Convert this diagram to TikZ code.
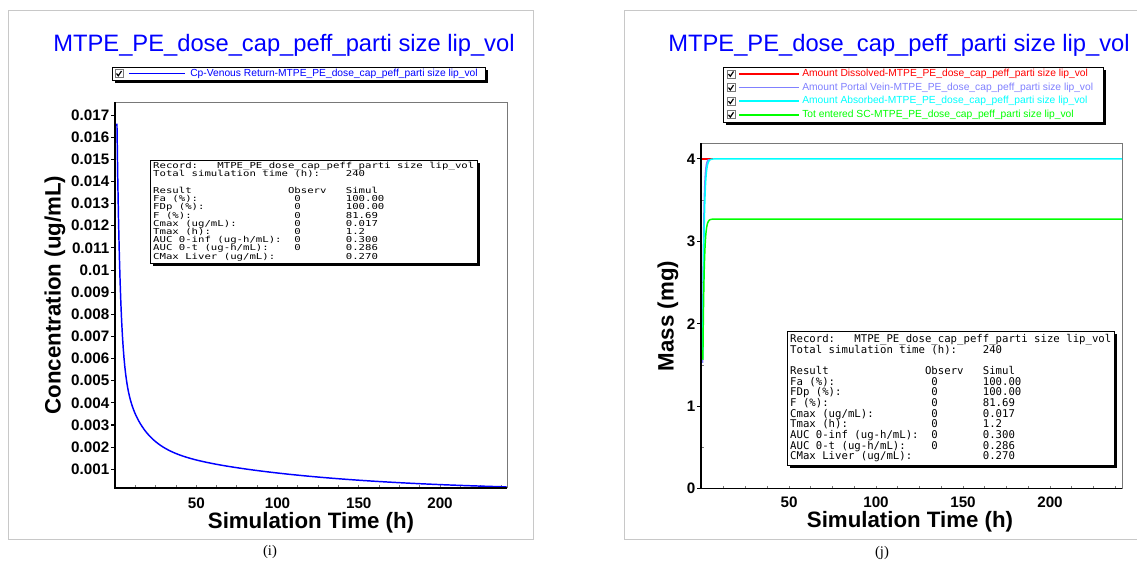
\documentclass[tikz,border=0pt]{standalone}
\usepackage{fontspec}
\setmainfont{Liberation Serif}
\newfontfamily\arialfont{Liberation Sans}
\newfontfamily\consolefont{DejaVu Sans Mono}
\usetikzlibrary{shadows}

\definecolor{framegray}{RGB}{200,200,200}
\definecolor{edgegray}{RGB}{120,120,120}
\definecolor{venousblue}{RGB}{0,0,255}
\definecolor{dissolvedred}{RGB}{255,0,0}
\definecolor{portalblue}{RGB}{128,128,255}
\definecolor{absorbedcyan}{RGB}{0,255,255}
\definecolor{enteredgreen}{RGB}{0,255,0}

% record font, lines set at a fixed pitch
\newcommand{\recfont}{\consolefont\fontsize{8}{8}\selectfont\setlength{\lineskiplimit}{-5pt}\setlength{\lineskip}{0pt}}

% one record line: label, observed, simulated
\newlength{\chw}
\newcommand{\recrow}[3]{\makebox[22\chw][l]{#1}\makebox[8\chw][l]{#2}#3}
\newcommand{\recordtext}{\settowidth{\chw}{0}\global\chw=\chw
\makebox[10\chw][l]{Record:}MTPE\_PE\_dose\_cap\_peff\_parti size lip\_vol\\
\makebox[30\chw][l]{Total simulation time (h):}240\\
\strut\\
\makebox[21\chw][l]{Result}\makebox[9\chw][l]{Observ}Simul\\
\recrow{Fa (\%):}{0}{100.00}\\
\recrow{FDp (\%):}{0}{100.00}\\
\recrow{F (\%):}{0}{81.69}\\
\recrow{Cmax (ug/mL):}{0}{0.017}\\
\recrow{Tmax (h):}{0}{1.2}\\
\recrow{AUC 0-inf (ug-h/mL):}{0}{0.300}\\
\recrow{AUC 0-t (ug-h/mL):}{0}{0.286}\\
\recrow{CMax Liver (ug/mL):}{}{0.270}}

\tikzset{
  panelframe/.style={draw=framegray, line width=0.75pt},
  titletext/.style={font=\arialfont\fontsize{17.8}{20}\selectfont, text=venousblue, inner sep=0pt},
  legtext/.style={font=\arialfont\fontsize{7.7}{9}\selectfont, anchor=west, inner sep=0pt},
  legline/.style={line width=1.2pt},
  ticklab/.style={font=\arialfont\bfseries\fontsize{11.4}{13}\selectfont, inner sep=0pt},
  axislab/.style={font=\arialfont\bfseries\fontsize{16.7}{19}\selectfont, inner sep=0pt},
  recordbox/.style={draw, fill=white, anchor=north west, align=left, inner sep=2.2pt,
    font=\recfont,
    general shadow={fill=black, shadow xshift=2pt, shadow yshift=-2pt}},
  captext/.style={font=\fontsize{11}{13}\selectfont, inner sep=0pt},
  curve/.style={line width=1.1pt},
  axisline/.style={line width=1.1pt},
  plotedge/.style={edgegray, line width=0.6pt},
  minortick/.style={edgegray, line width=0.6pt},
  checkbox/.pic={
    \draw[edgegray, fill=white, line width=0.6pt] (0,0) rectangle (8,8);
    \draw[line width=0.9pt] (1.5,4) -- (3.3,6.3) -- (6.5,1.5);
  }
}

\begin{document}
\begin{tikzpicture}[x=0.75pt, y=-0.75pt]
\useasboundingbox (0,0) rectangle (1137,561);

%%%%%%%%%%%%%%%% panel (i) %%%%%%%%%%%%%%%%
\draw[panelframe] (8,10) rectangle (533,539);
\node[titletext] (titleL) at (284,45) {MTPE\_PE\_dose\_cap\_peff\_parti size lip\_vol};

% legend
\fill (115,70) rectangle (488,83);
\draw[fill=white, line width=0.6pt] (112,67) rectangle (485,80);
\pic at (115,69.5) {checkbox};
\draw[legline, venousblue] (129,73.5) -- (185,73.5);
\node[legtext, text=venousblue] (legL) at (190,73.5) {Cp-Venous Return-MTPE\_PE\_dose\_cap\_peff\_parti size lip\_vol};

% plot box
\draw[plotedge] (115,102) -- (507.4,102) -- (507.4,488);
\foreach \t in {12.5,25,...,237.5}
  \draw[minortick] ({115+1.625*\t},488) -- ({115+1.625*\t},485);

% concentration curve
\draw[curve, venousblue] plot[domain=1.2:241, samples=500, variable=\t]
  ({115+1.625*\t}, {469.3-(19*exp(-0.5*\t)+4.4*exp(-0.087*\t)+2.24*exp(-0.0099*\t)-1)*22.14});

\draw[axisline] (115,102) -- (115,488) -- (507.4,488);

% y ticks
\foreach \v [count=\k] in {0.001,0.002,0.003,0.004,0.005,0.006,0.007,0.008,0.009,0.01,0.011,0.012,0.013,0.014,0.015,0.016,0.017}{
  \draw[line width=0.8pt] (111,{469.3-(\k-1)*22.14}) -- (115,{469.3-(\k-1)*22.14});
  \node[ticklab, anchor=east] (tyL\k) at (109.5,{469.3-(\k-1)*22.14}) {\v};
}
% x ticks
\foreach \v in {50,100,150,200}
  \node[ticklab] (txL\v) at ({115+1.625*\v},503) {\v};

\node[axislab] (xlabL) at (311,523) {Simulation Time (h)};
\node[axislab, rotate=90] (ylabL) at (55,295) {Concentration (ug/mL)};

\node[recordbox, yscale=0.77, transform shape] (recL) at (150,160) {\recordtext};

\node[captext] (capL) at (270,552) {(i)};

%%%%%%%%%%%%%%%% panel (j) %%%%%%%%%%%%%%%%
\draw[panelframe] (1137,10) -- (624,10) -- (624,539) -- (1137,539);
\node[titletext] (titleR) at (899,45) {MTPE\_PE\_dose\_cap\_peff\_parti size lip\_vol};

% legend
\fill (726,70) rectangle (1106,125);
\draw[fill=white, line width=0.6pt] (723,67) rectangle (1103,122);
\foreach \c/\s [count=\k] in {dissolvedred/Amount Dissolved, portalblue/Amount Portal Vein, absorbedcyan/Amount Absorbed, enteredgreen/Tot entered SC}{
  \pic at (727,{70+13.6*(\k-1)}) {checkbox};
  \draw[legline, \c] (739,{74+13.6*(\k-1)}) -- (799,{74+13.6*(\k-1)});
  \node[legtext, text=\c] (legR\k) at (802,{74+13.6*(\k-1)}) {\s-MTPE\_PE\_dose\_cap\_peff\_parti size lip\_vol};
}

% plot box
\draw[plotedge] (701,143) -- (1122,143) -- (1122,488.5);
\foreach \t in {12.5,25,...,237.5}
  \draw[minortick] ({702+1.74*\t},488.5) -- ({702+1.74*\t},485.5);
\foreach \m in {0.5,1.5,2.5,3.5}
  \draw[minortick] (701,{488.5-82.4*\m}) -- (704,{488.5-82.4*\m});

% mass curves
\draw[curve, dissolvedred] (701,158.9) -- (713,158.9);
\draw[curve, portalblue] plot[domain=0.3:4, samples=40, variable=\t]
  ({702+1.74*\t}, {488.5-82.4*4*(1-exp(-1.6*\t))});
\draw[curve, absorbedcyan] plot[domain=0.4:10, samples=60, variable=\t]
  ({702+1.74*\t}, {488.5-82.4*4*(1-exp(-1.26*\t))}) -- (1122,158.9);
\draw[curve, enteredgreen] plot[domain=0.5:10, samples=60, variable=\t]
  ({702+1.74*\t}, {488.5-82.4*3.27*(1-exp(-1.3*\t))}) -- (1122,219.1);

\draw[axisline] (701,143) -- (701,488.5) -- (1122,488.5);

% y ticks
\foreach \m in {0,...,4}{
  \draw[line width=0.8pt] (697,{488.5-82.4*\m}) -- (701,{488.5-82.4*\m});
  \node[ticklab, anchor=east] (tyR\m) at (695.5,{488.5-82.4*\m}) {\m};
}
% x ticks
\foreach \v in {50,100,150,200}
  \node[ticklab] (txR\v) at ({702+1.74*\v},502) {\v};

\node[axislab] (xlabR) at (910,522) {Simulation Time (h)};
\node[axislab, rotate=90] (ylabR) at (668,316) {Mass (mg)};

\node[recordbox] (recR) at (787,331) {\recordtext};

\node[captext] (capR) at (882,553) {(j)};
\end{tikzpicture}
\end{document}
